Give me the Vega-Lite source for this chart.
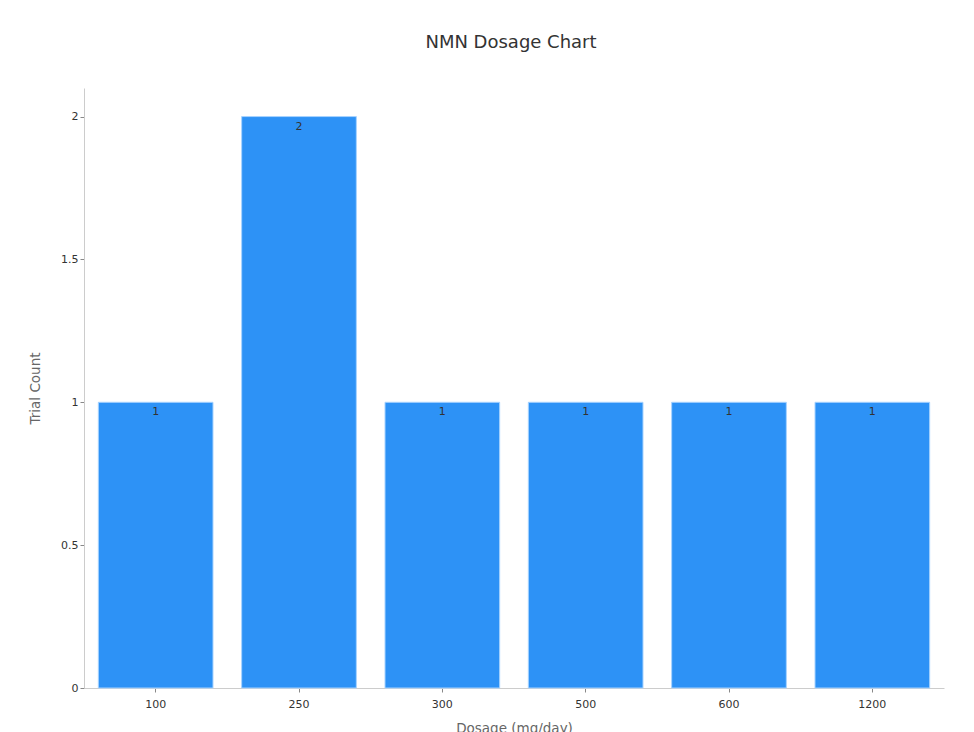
{
  "$schema": "https://vega.github.io/schema/vega-lite/v6.json",
  "autosize": "none",
  "width": 860,
  "height": 600,
  "padding": {"left": 84, "top": 88, "right": 30, "bottom": 44},
  "background": "white",
  "config": {
    "font": "DejaVu Sans",
    "view": {"stroke": null}
  },
  "title": {
    "text": "NMN Dosage Chart",
    "fontSize": 18,
    "fontWeight": "normal",
    "color": "#333333",
    "anchor": "middle",
    "offset": 36,
    "dx": -3
  },
  "data": {
    "values": [
      {"dosage": "100", "count": 1},
      {"dosage": "250", "count": 2},
      {"dosage": "300", "count": 1},
      {"dosage": "500", "count": 1},
      {"dosage": "600", "count": 1},
      {"dosage": "1200", "count": 1}
    ]
  },
  "encoding": {
    "x": {
      "field": "dosage",
      "type": "ordinal",
      "sort": null,
      "scale": {"paddingInner": 0.2, "paddingOuter": 0.1},
      "axis": {
        "title": "Dosage (mg/day)",
        "labelAngle": 0,
        "labelFontSize": 11,
        "labelColor": "#333333",
        "labelPadding": 6,
        "tickColor": "#888888",
        "tickSize": 4,
        "domainColor": "#cccccc",
        "titleFontSize": 13.5,
        "titleFontWeight": "normal",
        "titleColor": "#666666",
        "titlePadding": 12
      }
    },
    "y": {
      "field": "count",
      "type": "quantitative",
      "scale": {"domain": [0, 2.1], "nice": false},
      "axis": {
        "title": "Trial Count",
        "values": [0, 0.5, 1, 1.5, 2],
        "format": "~g",
        "grid": false,
        "labelFontSize": 11,
        "labelColor": "#333333",
        "tickColor": "#888888",
        "tickSize": 4,
        "domainColor": "#cccccc",
        "titleFontSize": 13.5,
        "titleFontWeight": "normal",
        "titleColor": "#666666",
        "titlePadding": 18
      }
    }
  },
  "layer": [
    {
      "mark": {"type": "bar", "color": "#2d92f6", "stroke": "#a8d3ff", "strokeWidth": 1}
    },
    {
      "mark": {"type": "text", "baseline": "top", "dy": 4, "fontSize": 11, "color": "#333333"},
      "encoding": {"text": {"field": "count", "type": "quantitative"}}
    }
  ]
}
